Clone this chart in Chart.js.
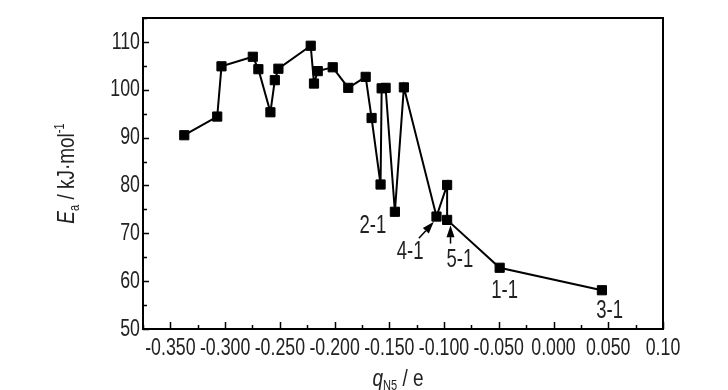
<!DOCTYPE html>
<html>
<head>
<meta charset="utf-8">
<script src="https://cdn.jsdelivr.net/npm/chart.js@4"></script>
<style>
  html, body { margin: 0; padding: 0; background: #fff; }
  canvas { display: block; }
</style>
</head>
<body>
<canvas id="chart" width="728" height="390"></canvas>
<script>
// values
var chargeN5 = [-0.3373, -0.3072, -0.3033, -0.2747, -0.2696, -0.2586, -0.2546, -0.2513, -0.2218, -0.2188,
                -0.2154, -0.2017, -0.1875, -0.1716, -0.1662, -0.1580, -0.1570, -0.1534, -0.1449, -0.1367,
                -0.1069, -0.0972, -0.0972, -0.0492, 0.0442];
var energyEa = [90.5, 94.4, 104.9, 106.9, 104.3, 95.3, 102.0, 104.4, 109.2, 101.3,
                103.9, 104.7, 100.4, 102.7, 94.1, 80.2, 100.3, 100.4, 74.5, 100.5,
                73.5, 80.1, 72.8, 62.8, 58.1];

var xTickValues = [-0.375, -0.35, -0.325, -0.3, -0.275, -0.25, -0.225, -0.2, -0.175, -0.15, -0.125,
                   -0.1, -0.075, -0.05, -0.025, 0, 0.025, 0.05, 0.075, 0.1];
var xTickLabels = ['', '-0.350', '', '-0.300', '', '-0.250', '', '-0.200', '', '-0.150', '',
                   '-0.100', '', '-0.050', '', '0.000', '', '0.050', '', '0.10'];
var yTickValues = [50, 55, 60, 65, 70, 75, 80, 85, 90, 95, 100, 105, 110, 115];
var yTickLabels = ['50', '', '60', '', '70', '', '80', '', '90', '', '100', '', '110', ''];

// structure labels (text position in data units) and the two arrows
var pointNames = ['2-1', '4-1', '5-1', '1-1', '3-1'];
var nameX = [-0.165, -0.131, -0.0856, -0.0446, 0.0512];
var nameY = [71.4, 66.0, 64.3, 57.9, 53.7];
var arrowTail = [[-0.123, 68.95], [-0.0941, 67.85]];
var arrowTip = [[-0.1093, 72.4], [-0.0941, 71.7]];

var FONT = '"Liberation Sans", Arial, sans-serif';
var TEXT = '#222';

function points() {
    var out = [];
    for (var i = 0; i < chargeN5.length; i++) out.push({ x: chargeN5[i], y: energyEa[i] });
    return out;
}

function setFont(ctx, size, italic) {
    ctx.font = (italic ? 'italic ' : '') + size + 'px ' + FONT;
}

// the reference uses a condensed Arial-like face: squeeze Liberation Sans horizontally
function narrowText(ctx, text, x, y, size, italic, align, squeeze) {
    setFont(ctx, size, italic);
    var w = ctx.measureText(text).width * squeeze;
    var left = align === 'center' ? x - w / 2 : (align === 'right' ? x - w : x);
    ctx.save();
    ctx.textAlign = 'left';
    ctx.translate(left, y);
    ctx.scale(squeeze, 1);
    ctx.fillText(text, 0, 0);
    ctx.restore();
    return w;
}

function drawSegments(ctx, parts, squeeze) {
    // parts: [text, fontSize, italic, dy]
    var total = 0;
    parts.forEach(function (p) {
        setFont(ctx, p[1], p[2]);
        p.w = ctx.measureText(p[0]).width * squeeze;
        total += p.w;
    });
    var x = -total / 2;
    parts.forEach(function (p) {
        narrowText(ctx, p[0], x, p[3], p[1], p[2], 'left', squeeze);
        x += p.w;
    });
}

var framePlugin = {
    id: 'frame',
    afterDraw: function (chart) {
        var ctx = chart.ctx, a = chart.chartArea;
        var xs = chart.scales.x, ys = chart.scales.y;
        ctx.save();
        ctx.strokeStyle = '#000';
        ctx.lineWidth = 2;
        ctx.strokeRect(a.left, a.top, a.right - a.left, a.bottom - a.top);

        // inward ticks
        ctx.lineWidth = 1.5;
        ctx.beginPath();
        xTickValues.forEach(function (v, i) {
            var px = Math.round(xs.getPixelForValue(v)) + 0.5;
            var len = xTickLabels[i] ? 7 : 4;
            ctx.moveTo(px, a.bottom);
            ctx.lineTo(px, a.bottom - len);
        });
        yTickValues.forEach(function (v, i) {
            var py = Math.round(ys.getPixelForValue(v)) + 0.5;
            var len = yTickLabels[i] ? 6 : 4;
            ctx.moveTo(a.left, py);
            ctx.lineTo(a.left + len, py);
        });
        ctx.stroke();

        // tick labels
        ctx.fillStyle = TEXT;
        ctx.textBaseline = 'middle';
        xTickValues.forEach(function (v, i) {
            if (xTickLabels[i]) narrowText(ctx, xTickLabels[i], xs.getPixelForValue(v), a.bottom + 19, 24, false, 'center', 0.74);
        });
        yTickValues.forEach(function (v, i) {
            if (yTickLabels[i]) narrowText(ctx, yTickLabels[i], a.left - 3, ys.getPixelForValue(v), 24, false, 'right', 0.74);
        });

        // structure labels
        pointNames.forEach(function (n, i) {
            narrowText(ctx, n, xs.getPixelForValue(nameX[i]), ys.getPixelForValue(nameY[i]), 25, false, 'center', 0.74);
        });

        // arrows
        ctx.fillStyle = '#000';
        ctx.lineWidth = 1.5;
        arrowTail.forEach(function (t, i) {
            var x0 = xs.getPixelForValue(t[0]), y0 = ys.getPixelForValue(t[1]);
            var x1 = xs.getPixelForValue(arrowTip[i][0]), y1 = ys.getPixelForValue(arrowTip[i][1]);
            var ang = Math.atan2(y1 - y0, x1 - x0);
            var hl = 12, hw = 4;
            ctx.beginPath();
            ctx.moveTo(x0, y0);
            ctx.lineTo(x1 - hl * Math.cos(ang), y1 - hl * Math.sin(ang));
            ctx.stroke();
            ctx.beginPath();
            ctx.moveTo(x1, y1);
            ctx.lineTo(x1 - hl * Math.cos(ang) + hw * Math.sin(ang), y1 - hl * Math.sin(ang) - hw * Math.cos(ang));
            ctx.lineTo(x1 - hl * Math.cos(ang) - hw * Math.sin(ang), y1 - hl * Math.sin(ang) + hw * Math.cos(ang));
            ctx.closePath();
            ctx.fill();
        });

        // axis titles
        ctx.fillStyle = TEXT;
        ctx.textBaseline = 'alphabetic';
        ctx.save();
        ctx.translate(74, (a.top + a.bottom) / 2);
        ctx.rotate(-Math.PI / 2);
        drawSegments(ctx, [['E', 24, true, 0], ['a', 14, false, 5], [' / kJ\u00b7mol', 24, false, 0], ['-1', 14, false, -10]], 0.79);
        ctx.restore();

        ctx.save();
        ctx.translate((a.left + a.right) / 2 - 5, 386);
        drawSegments(ctx, [['q', 24, true, 0], ['N5', 14, false, 4], [' / e', 24, false, 0]], 0.79);
        ctx.restore();
        ctx.restore();
    }
};

var ctx = document.getElementById('chart').getContext('2d');
var eaChart = new Chart(ctx, {
    type: 'scatter',
    data: {
        datasets: [
            {
                data: points(),
                showLine: true,
                borderColor: '#000',
                borderWidth: 2,
                backgroundColor: '#000',
                pointStyle: 'rect',
                pointRadius: 6.5,
                pointBorderWidth: 1,
                pointBorderColor: '#000',
                pointBackgroundColor: '#000',
                tension: 0
            }
        ]
    },
    options: {
        responsive: false,
        animation: false,
        layout: { padding: { top: 18, right: 65, left: 0, bottom: 0 } },
        plugins: { legend: { display: false }, tooltip: { enabled: false } },
        scales: {
            x: {
                type: 'linear',
                min: -0.375,
                max: 0.1,
                grid: { display: false },
                border: { display: false },
                ticks: { display: false },
                afterFit: function (scale) { scale.height = 61; }
            },
            y: {
                type: 'linear',
                min: 50,
                max: 115,
                grid: { display: false },
                border: { display: false },
                ticks: { display: false },
                afterFit: function (scale) { scale.width = 143; }
            }
        }
    },
    plugins: [framePlugin]
});
</script>
</body>
</html>
